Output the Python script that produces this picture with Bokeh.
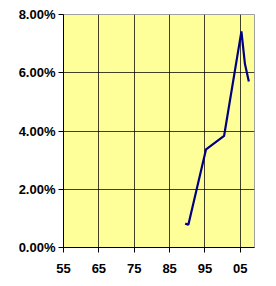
from bokeh.plotting import figure
from bokeh.models import NumeralTickFormatter, FixedTicker, Range1d, CustomJSTickFormatter
from bokeh.embed import file_html
from bokeh.resources import INLINE

years = [1989.4, 1990.3, 1995.3, 2000.4, 2005.3, 2006.3, 2007.4]
rates = [0.0082, 0.0078, 0.0337, 0.0383, 0.0742, 0.0630, 0.0570]
x_ticks = [1955, 1965, 1975, 1985, 1995, 2005]
y_ticks = [0.0, 0.02, 0.04, 0.06, 0.08]

FONT = "Liberation Sans"

p = figure(width=268, height=278, output_backend="svg", toolbar_location=None,
           x_range=Range1d(1955, 2009), y_range=Range1d(0, 0.08),
           min_border_left=63, min_border_right=14, min_border_top=14, min_border_bottom=31)
p.background_fill_color = "#FFFF99"
p.border_fill_color = "white"
p.outline_line_color = "#A0A0A0"
p.outline_line_width = 1

p.line(years, rates, line_color="#000080", line_width=2.2)

p.xaxis.ticker = FixedTicker(ticks=x_ticks)
p.xaxis.formatter = CustomJSTickFormatter(code="return String(tick % 100).padStart(2, '0');")
p.yaxis.ticker = FixedTicker(ticks=y_ticks)
p.yaxis.formatter = NumeralTickFormatter(format="0.00%")

for ax in (p.xaxis, p.yaxis):
    ax.axis_line_color = "black"
    ax.axis_line_width = 1
    ax.major_tick_line_color = "black"
    ax.major_tick_in = 0
    ax.major_tick_out = 5
    ax.minor_tick_line_color = None
    ax.major_label_text_font = FONT
    ax.major_label_text_font_style = "bold"
    ax.major_label_text_font_size = "13px"
    ax.major_label_text_color = "black"
p.xaxis.major_label_standoff = 11
p.yaxis.major_label_standoff = 3

p.xgrid.ticker = FixedTicker(ticks=x_ticks)
p.ygrid.ticker = FixedTicker(ticks=y_ticks)
p.grid.grid_line_color = "black"
p.grid.grid_line_alpha = 0.75
p.grid.grid_line_width = 1

open("out.html", "w").write(file_html(p, INLINE))
